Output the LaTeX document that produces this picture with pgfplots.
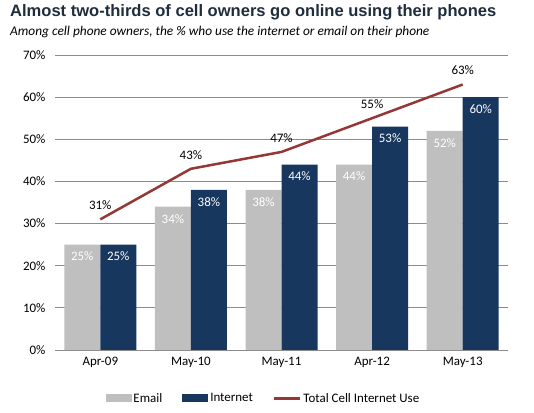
\documentclass[border=0pt]{standalone}
\usepackage{fontspec}
\setmainfont{Carlito}
\newfontfamily\titlefont{Liberation Sans}
\usepackage{pgfplots}
\pgfplotsset{compat=1.18}
\definecolor{emailc}{HTML}{BFBFBF}
\definecolor{netc}{HTML}{17375E}
\definecolor{linec}{HTML}{953735}
\definecolor{gridc}{HTML}{8C8C8C}
\definecolor{titlec}{HTML}{1F2D3D}
\begin{document}
\begin{tikzpicture}
\begin{axis}[
  at={(0,0)}, anchor=south west,
  scale only axis, width=453bp, height=295bp,
  xmin=-0.5, xmax=4.5, ymin=0, ymax=70,
  xtick={0,1,2,3,4},
  xticklabels={Apr-09,May-10,May-11,Apr-12,May-13},
  ytick={0,10,20,30,40,50,60,70},
  yticklabel={\pgfmathprintnumber{\tick}\%},
  /pgf/number format/assume math mode=true,
  tick style={draw=none},
  ymajorgrids, grid style={gridc, line width=0.8pt},
  axis line style={draw=none},
  axis x line*=bottom,
  x axis line style={draw=gridc, line width=0.8pt},
  ticklabel style={font=\fontsize{13}{15}\selectfont, text=black},
  yticklabel style={xshift=-6bp},
  xticklabel style={yshift=-4bp},
  legend style={at={(0.46,-0.135)}, anchor=north, draw=none, fill=none, legend columns=3, inner sep=1pt,
    font=\fontsize{13}{15}\selectfont, /tikz/every even column/.append style={column sep=18bp}},
  legend cell align=left,
]
\addplot[ybar, bar width=36bp, bar shift=-18bp, fill=emailc, draw=none,
  nodes near coords={\pgfmathprintnumber{\pgfplotspointmeta}\%},
  every node near coord/.append style={anchor=north, text=white, font=\fontsize{13}{15}\selectfont, yshift=-4bp, xshift=-18bp},
  legend image code/.code={\fill[emailc] (0bp,-4bp) rectangle (26bp,4bp);}]
  coordinates {(0,25) (1,34) (2,38) (3,44) (4,52)};
\addlegendentry{Email}
\addplot[ybar, bar width=36bp, bar shift=18bp, fill=netc, draw=none,
  nodes near coords={\pgfmathprintnumber{\pgfplotspointmeta}\%},
  every node near coord/.append style={anchor=north, text=white, font=\fontsize{13}{15}\selectfont, yshift=-4bp, xshift=18bp},
  legend image code/.code={\fill[netc] (0bp,-4bp) rectangle (26bp,4bp);}]
  coordinates {(0,25) (1,38) (2,44) (3,53) (4,60)};
\addlegendentry{Internet}
\addplot[linec, line width=2.5bp, mark=none,
  nodes near coords={\pgfmathprintnumber{\pgfplotspointmeta}\%},
  every node near coord/.append style={anchor=south, text=black, font=\fontsize{13}{15}\selectfont, yshift=5bp},
  legend image code/.code={\draw[linec, line width=2.5bp] (0bp,0bp) -- (26bp,0bp);}]
  coordinates {(0,31) (1,43) (2,47) (3,55) (4,63)};
\addlegendentry{Total Cell Internet Use}
\end{axis}
\path[use as bounding box] (-55bp,-63bp) rectangle (479bp,350bp);
\node[anchor=west, inner sep=0pt, text=titlec, font=\titlefont\bfseries\fontsize{16.6}{18}\selectfont] at (-45bp,338bp) {Almost two-thirds of cell owners go online using their phones};
\node[anchor=west, inner sep=0pt, text=black, font=\itshape\fontsize{13.4}{15}\selectfont] at (-45bp,318bp) {Among cell phone owners, the \% who use the internet or email on their phone};
\end{tikzpicture}
\end{document}
